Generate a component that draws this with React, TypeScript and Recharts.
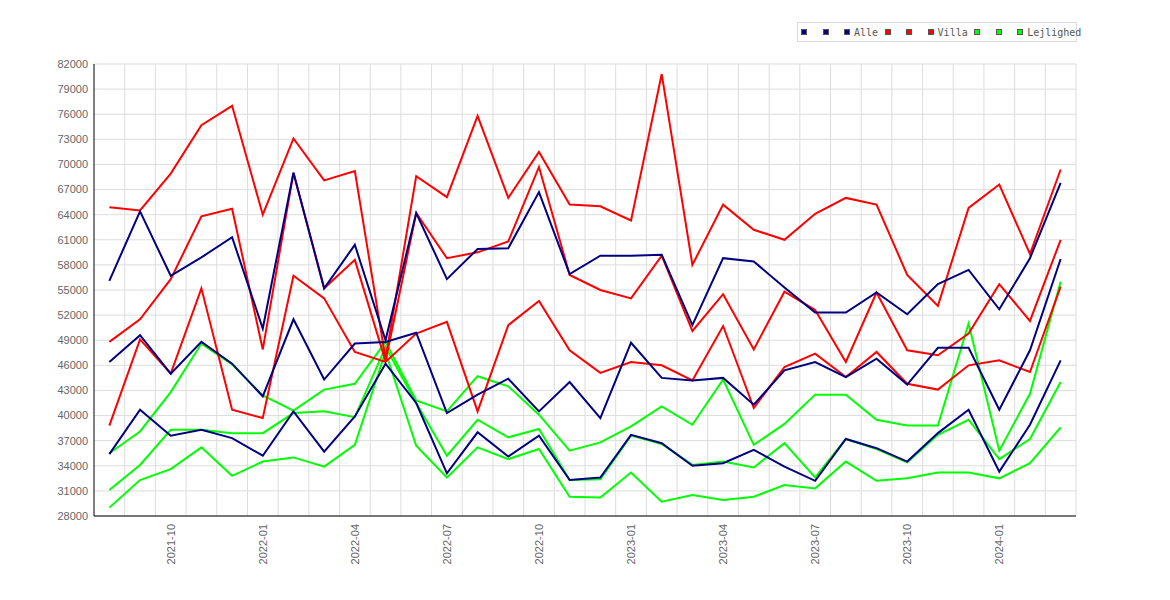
import React from "react";
import { LineChart, Line, XAxis, YAxis, CartesianGrid, Legend } from "recharts";

const months = [
  "2021-08", "2021-09", "2021-10", "2021-11", "2021-12",
  "2022-01", "2022-02", "2022-03", "2022-04", "2022-05", "2022-06",
  "2022-07", "2022-08", "2022-09", "2022-10", "2022-11", "2022-12",
  "2023-01", "2023-02", "2023-03", "2023-04", "2023-05", "2023-06",
  "2023-07", "2023-08", "2023-09", "2023-10", "2023-11", "2023-12",
  "2024-01", "2024-02", "2024-03",
];

const quarterLabels = [
  "2021-10", "2022-01", "2022-04", "2022-07", "2022-10",
  "2023-01", "2023-04", "2023-07", "2023-10", "2024-01",
];

const yTicks = [
  28000, 31000, 34000, 37000, 40000, 43000, 46000, 49000, 52000, 55000,
  58000, 61000, 64000, 67000, 70000, 73000, 76000, 79000, 82000,
];

// Alle
const alleHigh = [56100, 64400, 56700, 58900, 61300, 50400, 69000, 55200, 60400, 49000, 64200, 56300, 59900, 60000, 66700, 56900, 59100, 59100, 59200, 50800, 58800, 58400, 55300, 52300, 52300, 54700, 52100, 55700, 57400, 52700, 58800, 67800];
const alleMid = [46400, 49600, 45000, 48800, 46200, 42300, 51500, 44300, 48600, 48800, 49900, 40300, 42500, 44400, 40500, 44000, 39700, 48700, 44500, 44200, 44500, 41300, 45400, 46400, 44600, 46800, 43700, 48100, 48100, 40700, 47800, 58700];
const alleLow = [35400, 40700, 37600, 38300, 37300, 35200, 40500, 35700, 39900, 46200, 41500, 33100, 38000, 35100, 37600, 32300, 32600, 37700, 36700, 34000, 34300, 35900, 33900, 32200, 37200, 36100, 34500, 37900, 40700, 33300, 38900, 46600];

// Villa
const villaHigh = [64900, 64500, 68900, 74700, 77000, 64000, 73100, 68100, 69200, 46800, 68600, 66100, 75800, 66000, 71500, 65200, 65000, 63300, 80800, 58000, 65200, 62200, 61000, 64100, 66000, 65200, 56800, 53100, 64800, 67600, 59300, 69400];
const villaMid = [48800, 51500, 56300, 63800, 64700, 47900, 69000, 55200, 58600, 46500, 64200, 58800, 59500, 60800, 69700, 56800, 55000, 54000, 59100, 50100, 54500, 47900, 54800, 52600, 46400, 54700, 47800, 47200, 49800, 55700, 51300, 61000];
const villaLow = [38800, 49100, 45000, 55200, 40700, 39700, 56700, 54000, 47600, 46400, 49800, 51200, 40500, 50800, 53700, 47800, 45100, 46400, 46000, 44200, 50700, 40900, 45800, 47400, 44600, 47600, 43800, 43100, 46000, 46600, 45200, 55400];

// Lejlighed
const lejlHigh = [35500, 38100, 42800, 48600, 46100, 42400, 40600, 43100, 43800, 48800, 41800, 40500, 44700, 43500, 40100, 35800, 36800, 38700, 41100, 38900, 44300, 36500, 39000, 42500, 42500, 39500, 38800, 38800, 51000, 35800, 42600, 56000];
const lejlMid = [31100, 34100, 38300, 38300, 37900, 37900, 40300, 40500, 39800, 48200, 41500, 35200, 39500, 37400, 38400, 32300, 32400, 37600, 36600, 34100, 34500, 33800, 36700, 32600, 37200, 36000, 34400, 37700, 39500, 34800, 37200, 44000];
const lejlLow = [29000, 32300, 33600, 36200, 32800, 34500, 35000, 33900, 36500, 47600, 36400, 32600, 36200, 34800, 36000, 30300, 30200, 33200, 29700, 30500, 29900, 30300, 31700, 31300, 34500, 32200, 32500, 33200, 33200, 32500, 34300, 38600];

const groups = [
  { name: "Alle", color: "#000080", keys: ["alleLow", "alleMid", "alleHigh"] },
  { name: "Villa", color: "#ff0000", keys: ["villaLow", "villaMid", "villaHigh"] },
  { name: "Lejlighed", color: "#00ff00", keys: ["lejlLow", "lejlMid", "lejlHigh"] },
];

const data = months.map((m, i) => ({
  idx: i,
  month: m,
  alleHigh: alleHigh[i],
  alleMid: alleMid[i],
  alleLow: alleLow[i],
  villaHigh: villaHigh[i],
  villaMid: villaMid[i],
  villaLow: villaLow[i],
  lejlHigh: lejlHigh[i],
  lejlMid: lejlMid[i],
  lejlLow: lejlLow[i],
}));

const xTicks = quarterLabels.map(l => months.indexOf(l));
// grid lines sit on the month boundaries
const gridX = months.map((_, i) => i + 0.5);

const font = "'Liberation Sans', Arial, sans-serif";

function MonthTick(props: any) {
  const { x, y, payload } = props;
  return (
    <g transform={`translate(${x},${y})`}>
      <text x={0} y={0} dy={4} textAnchor="end" transform="rotate(-90)" fill="#666" fontSize={11} fontFamily={font}>
        {months[payload.value]}
      </text>
    </g>
  );
}

function LegendBox() {
  return (
    <div
      style={{
        boxSizing: "border-box",
        width: 280,
        height: 20,
        border: "1px solid #ddd",
        background: "#fff",
        paddingLeft: 3,
        display: "flex",
        alignItems: "center",
        whiteSpace: "nowrap",
        fontFamily: "'DejaVu Sans Mono', monospace",
        fontSize: 10,
        color: "#555",
      }}
    >
      {groups.map(g =>
        g.keys.map((k, j) => (
          <span key={k} style={{ display: "inline-flex", alignItems: "center", marginRight: 6.5 }}>
            <span style={{ boxSizing: "border-box", width: 6, height: 6, border: "1px solid #555", background: g.color }} />
            <span style={{ marginLeft: 4, minWidth: 5 }}>{j === g.keys.length - 1 ? g.name : ""}</span>
          </span>
        ))
      )}
    </div>
  );
}

export default function App() {
  return (
    <div style={{ width: 1154, height: 584, fontFamily: font }}>
      <LineChart width={1154} height={584} data={data} margin={{ top: 56, right: 86, left: 0, bottom: 16 }}>
        <CartesianGrid stroke="#ddd" verticalValues={gridX} />
        <XAxis
          dataKey="idx"
          type="number"
          domain={[-0.5, months.length - 0.5]}
          ticks={xTicks}
          interval={0}
          tick={<MonthTick />}
          tickLine={false}
          tickSize={0}
          tickMargin={8}
          height={60}
          axisLine={{ stroke: "#000" }}
        />
        <YAxis
          type="number"
          domain={[28000, 82000]}
          ticks={yTicks}
          interval={0}
          width={86}
          tickLine={false}
          tickSize={4}
          tickMargin={2}
          axisLine={{ stroke: "#000" }}
          tick={{ fill: "#666", fontSize: 11, fontFamily: font }}
        />
        <Legend
          layout="horizontal"
          verticalAlign="middle"
          align="center"
          content={() => <LegendBox />}
          wrapperStyle={{ left: 789, top: 14, width: "auto", height: "auto" }}
        />
        {[...groups].reverse().map(g =>
          g.keys.map(k => (
            <Line
              key={k}
              type="linear"
              dataKey={k}
              name={g.name}
              stroke={g.color}
              strokeWidth={2}
              dot={false}
              activeDot={false}
              isAnimationActive={false}
            />
          ))
        )}
      </LineChart>
    </div>
  );
}
